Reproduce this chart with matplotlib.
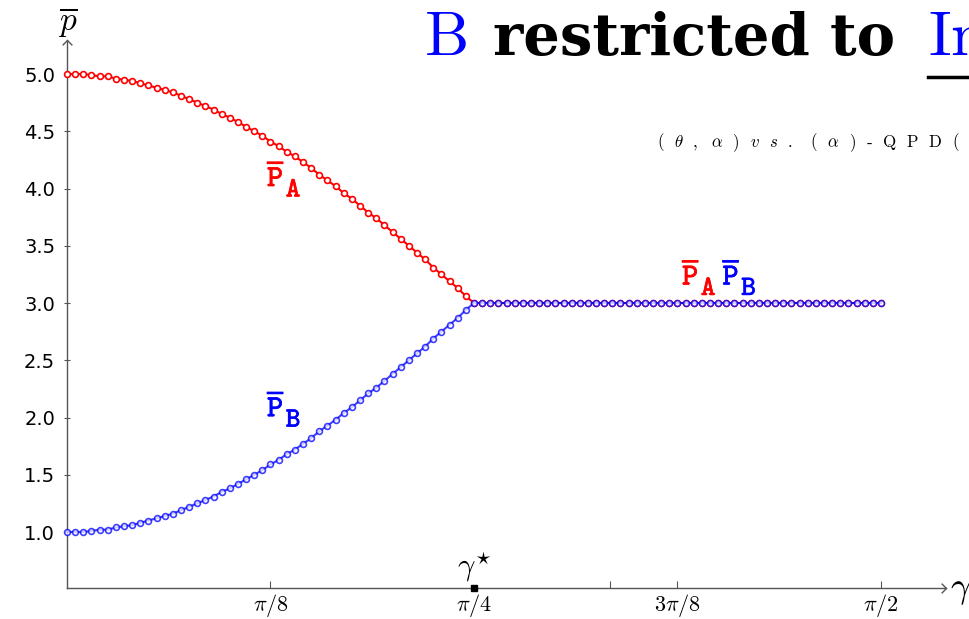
import numpy as np
import matplotlib
matplotlib.use("Agg")
import matplotlib.pyplot as plt
import matplotlib.patheffects as pe
from matplotlib.path import Path

plt.rcParams["mathtext.fontset"] = "cm"

# gamma grid: 0 .. pi/2 in steps of pi/200
gamma = np.linspace(0, np.pi / 2, 101)

p_A = [5.00, 5.00, 5.00, 4.99, 4.98, 4.98, 4.96, 4.95, 4.94, 4.92, 4.90,
       4.88, 4.86, 4.84, 4.81, 4.78, 4.75, 4.72, 4.69, 4.65, 4.62,
       4.58, 4.54, 4.50, 4.46, 4.41, 4.37, 4.32, 4.28, 4.23, 4.18,
       4.12, 4.07, 4.02, 3.96, 3.91, 3.85, 3.79, 3.74, 3.68, 3.62,
       3.56, 3.50, 3.44, 3.38, 3.31, 3.25, 3.19, 3.13, 3.06, 3.00,
       3.00, 3.00, 3.00, 3.00, 3.00, 3.00, 3.00, 3.00, 3.00, 3.00,
       3.00, 3.00, 3.00, 3.00, 3.00, 3.00, 3.00, 3.00, 3.00, 3.00,
       3.00, 3.00, 3.00, 3.00, 3.00, 3.00, 3.00, 3.00, 3.00, 3.00,
       3.00, 3.00, 3.00, 3.00, 3.00, 3.00, 3.00, 3.00, 3.00, 3.00,
       3.00, 3.00, 3.00, 3.00, 3.00, 3.00, 3.00, 3.00, 3.00, 3.00]

p_B = [1.00, 1.00, 1.00, 1.01, 1.02, 1.02, 1.04, 1.05, 1.06, 1.08, 1.10,
       1.12, 1.14, 1.16, 1.19, 1.22, 1.25, 1.28, 1.31, 1.35, 1.38,
       1.42, 1.46, 1.50, 1.54, 1.59, 1.63, 1.68, 1.72, 1.77, 1.82,
       1.88, 1.93, 1.98, 2.04, 2.09, 2.15, 2.21, 2.26, 2.32, 2.38,
       2.44, 2.50, 2.56, 2.62, 2.69, 2.75, 2.81, 2.87, 2.94, 3.00,
       3.00, 3.00, 3.00, 3.00, 3.00, 3.00, 3.00, 3.00, 3.00, 3.00,
       3.00, 3.00, 3.00, 3.00, 3.00, 3.00, 3.00, 3.00, 3.00, 3.00,
       3.00, 3.00, 3.00, 3.00, 3.00, 3.00, 3.00, 3.00, 3.00, 3.00,
       3.00, 3.00, 3.00, 3.00, 3.00, 3.00, 3.00, 3.00, 3.00, 3.00,
       3.00, 3.00, 3.00, 3.00, 3.00, 3.00, 3.00, 3.00, 3.00, 3.00]

y_ticks = [1.0, 1.5, 2.0, 2.5, 3.0, 3.5, 4.0, 4.5, 5.0]
x_ticks = [np.pi / 8, np.pi / 4, 3 * np.pi / 8, np.pi / 2]
x_tick_labels = [r"$\pi/8$", r"$\pi/4$", r"$3\pi/8$", r"$\pi/2$"]
gamma_star = np.pi / 4

W, H = 970, 619
fig = plt.figure(figsize=(W / 100, H / 100), dpi=100)


def fx(px):
    return px / W


def fy(py):
    return 1 - py / H


ax = fig.add_axes([fx(67), fy(588), fx(946) - fx(67), fy(40) - fy(588)])
ax.set_xlim(0, 1.6963)
ax.set_ylim(0.511, 5.297)

axis_col = "#555555"
for s in ("top", "right"):
    ax.spines[s].set_visible(False)
for s in ("left", "bottom"):
    ax.spines[s].set_color(axis_col)
    ax.spines[s].set_linewidth(1.0)

# open chevron arrowheads at the ends of the axes
right_head = Path([(-1, 1), (0, 0), (-1, -1)], [Path.MOVETO, Path.LINETO, Path.LINETO])
up_head = Path([(-1, -1), (0, 0), (1, -1)], [Path.MOVETO, Path.LINETO, Path.LINETO])
ax.plot([1], [0], transform=ax.transAxes, marker=right_head, ms=7, mew=1.0,
        color=axis_col, fillstyle="none", clip_on=False)
ax.plot([0], [1], transform=ax.transAxes, marker=up_head, ms=7, mew=1.0,
        color=axis_col, fillstyle="none", clip_on=False)

ax.set_yticks(y_ticks)
ax.set_yticklabels([f"{v:.1f}" for v in y_ticks], fontfamily="DejaVu Sans", fontsize=14)
ax.set_xticks(x_ticks + [np.pi / 3])
ax.set_xticklabels(x_tick_labels + [""], fontsize=16)
ax.tick_params(axis="y", direction="inout", length=5, width=0.8, color=axis_col, pad=6)
ax.tick_params(axis="x", direction="in", length=5, width=0.8, color=axis_col, pad=3)
ax.xaxis.get_major_ticks()[1].tick1line.set_visible(False)

mk = dict(marker="o", ms=4.2, mew=1.2, mfc="white", lw=1.5, clip_on=False)
ax.plot(gamma, p_A, color="#ff0000", zorder=3, **mk)
ax.plot(gamma, p_B, color="#0000ff", alpha=0.75, zorder=4, **mk)

# gamma-star marker on the axis
ax.plot([gamma_star], [0.511], marker="s", ms=4, color="black", clip_on=False, zorder=6)
ax.text(gamma_star, 0.62, r"$\gamma^{\star}$", ha="center", va="baseline", fontsize=22)


def curve_label(x, y, sub, color):
    """P-bar with a near full-size subscript, in a typewriter face."""
    fx_ = [pe.withStroke(linewidth=0.5, foreground=color)]
    ax.text(x, y, r"$\overline{\mathtt{P}}$", color=color, fontsize=22,
            ha="left", va="baseline", path_effects=fx_)
    ax.annotate(r"$\mathtt{" + sub + "}$", xy=(x, y), xycoords="data",
                xytext=(13.5, -7.5), textcoords="offset points", color=color,
                fontsize=20, ha="left", va="baseline", path_effects=fx_)


curve_label(0.386, 4.02, "A", "#ff0000")
curve_label(0.386, 2.01, "B", "#0000ff")
curve_label(1.187, 3.16, "A", "#ff0000")
curve_label(1.265, 3.16, "B", "#0000ff")

# axis names
fig.text(fx(68), fy(22), r"$\overline{p}$", fontsize=24, ha="center", va="center")
fig.text(fx(950), fy(590), r"$\gamma$", fontsize=26, ha="left", va="center")

# heading
fig.text(fx(424), fy(55), r"$\mathrm{B}$", color="#0000ff", fontsize=45, va="baseline")
fig.text(fx(493), fy(55), "restricted to", color="black", fontsize=41.5,
         fontfamily="DejaVu Serif", fontweight="bold", va="baseline")
fig.text(fx(928), fy(55), r"$\mathrm{In}$", color="#0000ff", fontsize=45, va="baseline")
fig.add_artist(plt.Line2D([fx(928), fx(975)], [fy(77), fy(77)], color="black", lw=2.5))

sp = r"\;\;\,"
sub_parts = ["(", r"\theta", ",", r"\alpha", ")", "v", "s", ".", r"\;(", r"\alpha", ")",
             r"\text{-}", r"\mathrm{Q}", r"\mathrm{P}", r"\mathrm{D}", "("]
fig.text(fx(657), fy(143), "$" + sp.join(sub_parts) + "$",
         fontsize=12.2, va="center", ha="left")

fig.savefig("out.png", dpi=100)
